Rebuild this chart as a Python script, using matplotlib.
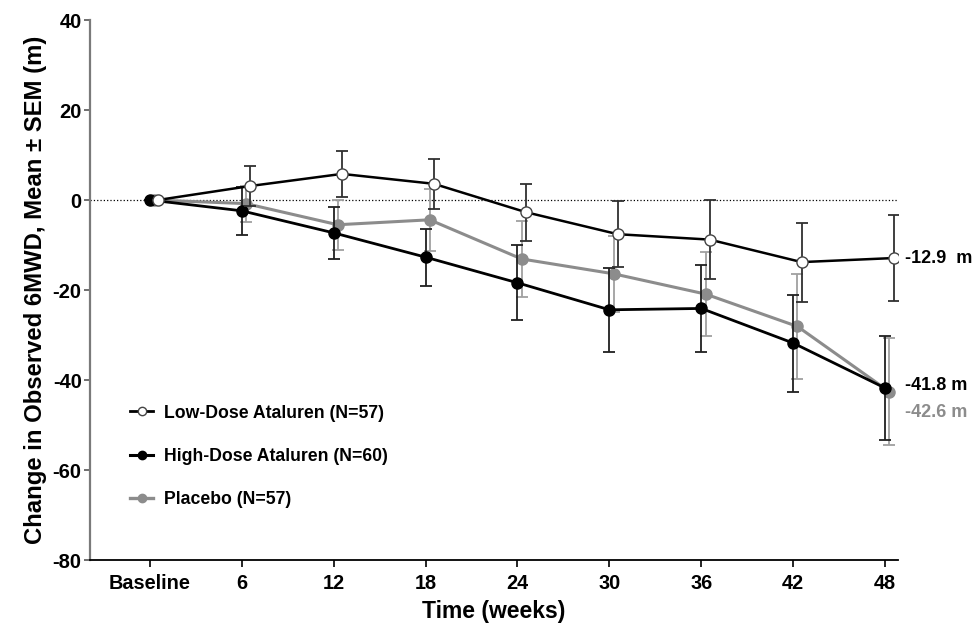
import numpy as np
import matplotlib
matplotlib.use("Agg")
import matplotlib.pyplot as plt
from matplotlib.lines import Line2D

plt.rcParams['font.family'] = ['Liberation Sans', 'DejaVu Sans']
plt.rcParams['axes.unicode_minus'] = False

# data
weeks = ['Baseline', '6', '12', '18', '24', '30', '36', '42', '48']

low_mean = [0, 3.1, 5.8, 3.6, -2.7, -7.6, -8.8, -13.8, -12.9]
low_sem = [0, 4.5, 5.2, 5.6, 6.3, 7.3, 8.7, 8.8, 9.6]

high_mean = [0, -2.4, -7.3, -12.7, -18.4, -24.4, -24.1, -31.8, -41.8]
high_sem = [0, 5.3, 5.8, 6.3, 8.3, 9.4, 9.7, 10.8, 11.6]

pbo_mean = [0, -0.8, -5.5, -4.4, -13.1, -16.4, -20.9, -28.1, -42.6]
pbo_sem = [0, 4.0, 5.5, 6.9, 8.4, 8.5, 9.3, 11.6, 11.9]

end_labels = ['-12.9  m', '-41.8 m', '-42.6 m']

grey = '#8c8c8c'

fig = plt.figure(figsize=(9.76, 6.25), dpi=100)
ax = fig.add_axes([0.0922, 0.104, 0.828, 0.864])

x = np.arange(len(weeks))

ax.axhline(0, color='black', linestyle=':', linewidth=0.9, zorder=1)

# placebo
ax.errorbar(x + 0.045, pbo_mean, yerr=pbo_sem, color=grey, ecolor='#a0a0a0',
            elinewidth=1.3, capsize=4, capthick=1.3, linewidth=2.2,
            marker='o', markersize=8, markerfacecolor=grey, markeredgecolor=grey,
            zorder=3)
# high dose
ax.errorbar(x, high_mean, yerr=high_sem, color='black', ecolor='#202020',
            elinewidth=1.3, capsize=4, capthick=1.3, linewidth=2.0,
            marker='o', markersize=8, markerfacecolor='black', markeredgecolor='black',
            zorder=4)
# low dose
ax.errorbar(x + 0.09, low_mean, yerr=low_sem, color='black', ecolor='#303030',
            elinewidth=1.3, capsize=4, capthick=1.3, linewidth=1.8,
            marker='o', markersize=8, markerfacecolor='white', markeredgecolor='#444444',
            zorder=5)

# end labels
ax.text(x[-1] + 0.22, low_mean[-1], end_labels[0], fontsize=13, fontweight='bold',
        va='center', ha='left', color='black')
ax.text(x[-1] + 0.22, high_mean[-1] + 0.6, end_labels[1], fontsize=13, fontweight='bold',
        va='center', ha='left', color='black')
ax.text(x[-1] + 0.22, pbo_mean[-1] - 4.6, end_labels[2], fontsize=13, fontweight='bold',
        va='center', ha='left', color=grey)

ax.set_xlim(-0.65, 8.14)
ax.set_ylim(-80, 40)
ax.set_xticks(x)
ax.set_xticklabels(weeks)
ax.set_yticks(np.arange(-80, 41, 20))

ax.spines['top'].set_visible(False)
ax.spines['right'].set_visible(False)
ax.spines['left'].set_color('#7a7a7a')
ax.spines['left'].set_linewidth(1.6)
ax.spines['bottom'].set_color('black')
ax.spines['bottom'].set_linewidth(1.3)

ax.tick_params(axis='x', width=1.2, length=5, color='black', pad=5)
ax.tick_params(axis='y', width=1.2, length=4, color='#555555', pad=2)
for lbl in ax.get_xticklabels():
    lbl.set_fontweight('bold')
    lbl.set_fontsize(14.3)
for lbl in ax.get_yticklabels():
    lbl.set_fontweight('bold')
    lbl.set_fontsize(14.5)
    lbl.set_family(['Liberation Sans Narrow', 'Liberation Sans', 'DejaVu Sans'])

ax.set_xlabel('Time (weeks)', fontsize=16.5, fontweight='bold', labelpad=5)
ax.set_ylabel('Change in Observed 6MWD, Mean \u00b1 SEM (m)', fontsize=17.2,
              fontweight='bold', labelpad=4)

handles = [
    Line2D([], [], color='black', linewidth=2.0, marker='o', markersize=6,
           markerfacecolor='white', markeredgecolor='#444444'),
    Line2D([], [], color='black', linewidth=2.2, marker='o', markersize=6,
           markerfacecolor='black'),
    Line2D([], [], color=grey, linewidth=2.4, marker='o', markersize=6,
           markerfacecolor=grey, markeredgecolor=grey),
]
labels = ['Low-Dose Ataluren (N=57)', 'High-Dose Ataluren (N=60)', 'Placebo (N=57)']
ax.legend(handles, labels, loc='lower left', bbox_to_anchor=(0.03, 0.066), frameon=False,
          prop={'weight': 'bold', 'size': 12.7}, labelspacing=1.5,
          handlelength=1.3, handletextpad=0.6)

fig.savefig('out.png', dpi=100)
